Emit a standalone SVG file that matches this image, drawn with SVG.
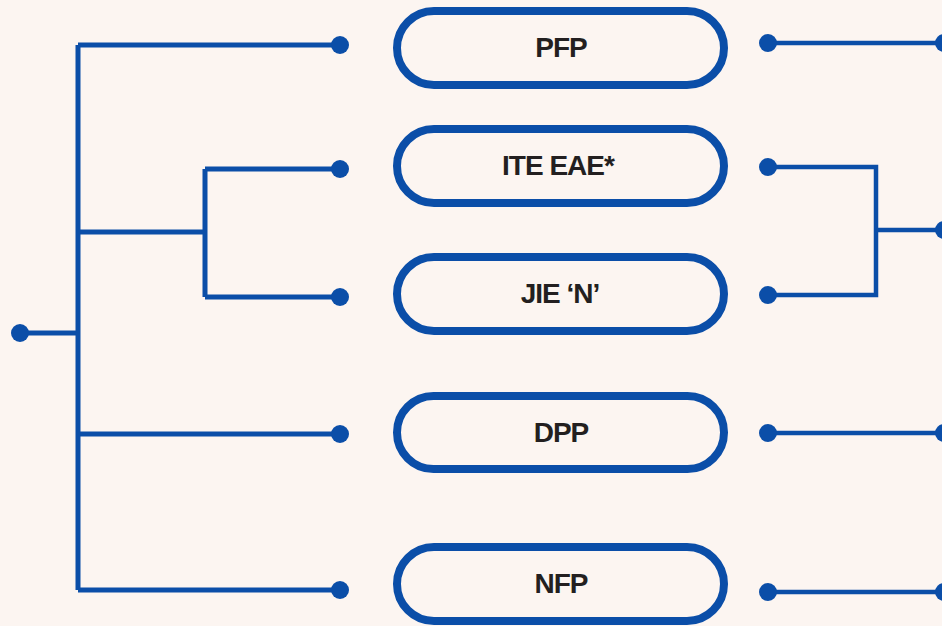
<svg xmlns="http://www.w3.org/2000/svg" width="942" height="626" viewBox="0 0 942 626">
<style>
.bg{fill:#fcf5f1}
.pill{fill:none;stroke:#0b4ea8;stroke-width:8}
.lbl{font-family:"Liberation Sans",Arial,sans-serif;font-weight:bold;font-size:28px;letter-spacing:-1px;fill:#231f20;text-anchor:middle}
.ln{fill:none;stroke:#0b4ea8;stroke-width:5;stroke-linejoin:miter;stroke-linecap:butt}
.lnr{fill:none;stroke:#0b4ea8;stroke-width:4.5;stroke-linejoin:miter}
.dot{fill:#0b4ea8}
</style>
<rect class="bg" x="0" y="0" width="942" height="626"/>
<g id="connectors">
  <path class="ln" d="M20 333H78M78 45V590M78 45H340M78 232H205M205 169V297M205 169H340M205 297H340M78 434H340M78 590H340"/>
  <path class="lnr" d="M768 43H942M768 167H876V295H768M876 230H942M768 433H942M768 592H942"/>
  <circle class="dot" cx="20" cy="333" r="9"/>
  <circle class="dot" cx="340" cy="45" r="9"/>
  <circle class="dot" cx="340" cy="169" r="9"/>
  <circle class="dot" cx="340" cy="297" r="9"/>
  <circle class="dot" cx="340" cy="434" r="9"/>
  <circle class="dot" cx="340" cy="590" r="9"/>
  <circle class="dot" cx="768" cy="43" r="9"/>
  <circle class="dot" cx="768" cy="167" r="9"/>
  <circle class="dot" cx="768" cy="295" r="9"/>
  <circle class="dot" cx="768" cy="433" r="9"/>
  <circle class="dot" cx="768" cy="592" r="9"/>
  <circle class="dot" cx="944" cy="43" r="9"/>
  <circle class="dot" cx="944" cy="230" r="9"/>
  <circle class="dot" cx="944" cy="433" r="9"/>
  <circle class="dot" cx="944" cy="592" r="9"/>
</g>
<g id="node-pfp">
  <rect class="pill" x="397" y="11" width="327" height="74" rx="37"/>
  <text class="lbl" x="561" y="57">PFP</text>
</g>
<g id="node-ite">
  <rect class="pill" x="397" y="129" width="327" height="74" rx="37"/>
  <text class="lbl" x="558" y="175">ITE EAE*</text>
</g>
<g id="node-jie">
  <rect class="pill" x="397" y="257" width="327" height="74" rx="37"/>
  <text class="lbl" x="560" y="303">JIE ‘N’</text>
</g>
<g id="node-dpp">
  <rect class="pill" x="397" y="396" width="327" height="73" rx="36.5"/>
  <text class="lbl" x="561" y="442">DPP</text>
</g>
<g id="node-nfp">
  <rect class="pill" x="397" y="547" width="327" height="74" rx="37"/>
  <text class="lbl" x="561" y="593">NFP</text>
</g>
</svg>
